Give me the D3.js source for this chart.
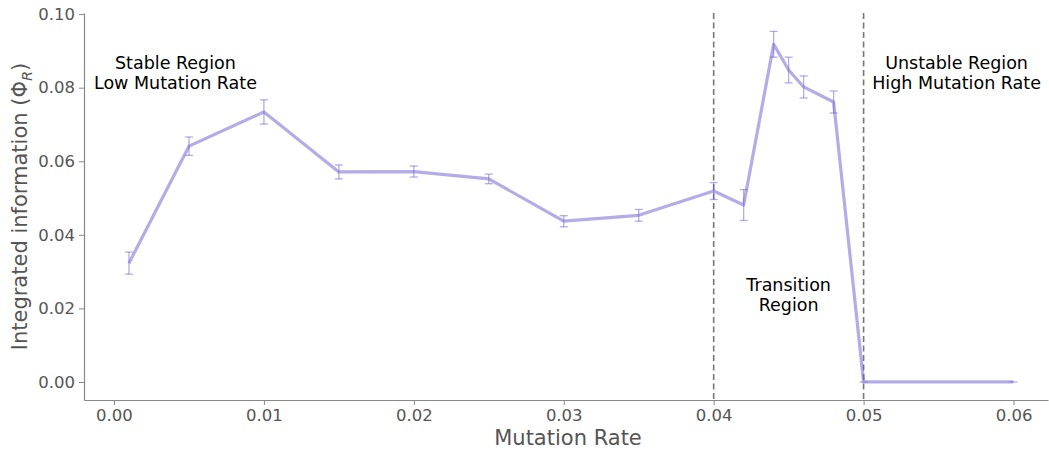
<!DOCTYPE html>
<html><head><meta charset="utf-8">
<script src="https://cdn.jsdelivr.net/npm/d3@7"></script>
<style>
body{margin:0;background:#fff;}
text{font-family:"DejaVu Sans",sans-serif;}
</style></head>
<body><svg id="c" width="1049" height="451"></svg>
<script>
const rates = [0.001,0.005,0.01,0.015,0.02,0.025,0.03,0.035,0.04,0.042,0.044,0.045,0.046,0.048,0.05,0.06];
const phi   = [0.0323,0.0641,0.0734,0.0571,0.0572,0.0552,0.0437,0.0453,0.0519,0.0481,0.0918,0.0848,0.0802,0.0761,0.0,0.0];
const errs  = [0.0030,0.0025,0.0033,0.0019,0.0015,0.0013,0.0015,0.0016,0.0023,0.0042,0.0035,0.0035,0.0030,0.0030,0.0,0.0];
const xTicks = [0,0.01,0.02,0.03,0.04,0.05,0.06];
const yTicks = [0,0.02,0.04,0.06,0.08,0.10];
const boundaries = [0.04,0.05];
const annotations = [
  {x:0.0041, y:0.0855, lines:["Stable Region","Low Mutation Rate"]},
  {x:0.045, y:0.0253, lines:["Transition","Region"]},
  {x:0.0562, y:0.0855, lines:["Unstable Region","High Mutation Rate"]}
];

const svg = d3.select("#c");
const L=84, R=1048, T=13, B=400;
const x = d3.scaleLinear().domain([-0.002,0.0623]).range([L,R]);
const y = d3.scaleLinear().domain([-0.0049,0.1003]).range([B,T]);
const grey="#555";

// axes
const xa = svg.append("g").attr("transform",`translate(0,${B})`)
  .call(d3.axisBottom(x).tickValues(xTicks).tickFormat(d3.format(".2f")).tickSize(5).tickPadding(4).tickSizeOuter(0));
const ya = svg.append("g").attr("transform",`translate(${L},0)`)
  .call(d3.axisLeft(y).tickValues(yTicks).tickFormat(d3.format(".2f")).tickSize(5).tickPadding(4).tickSizeOuter(0));
[xa,ya].forEach(a=>{
  a.select(".domain").attr("stroke","#888").attr("stroke-width",1.2);
  a.selectAll(".tick line").attr("stroke","#888").attr("stroke-width",1);
  a.selectAll(".tick text").attr("fill",grey).style("font-size","16.5px").style("font-family","DejaVu Sans");
});

svg.append("text").attr("x",(L+R)/2+2).attr("y",445).attr("text-anchor","middle")
  .attr("fill",grey).style("font-size","21px").text("Mutation Rate");
const yl = svg.append("text").attr("transform",`translate(27,${(T+B)/2}) rotate(-90)`).attr("text-anchor","middle")
  .attr("fill",grey).style("font-size","21px");
yl.append("tspan").text("Integrated information (Φ");
yl.append("tspan").attr("dy",5).style("font-size","14.5px").style("font-style","italic").text("R");
yl.append("tspan").attr("dy",-5).text(")");

// boundaries
svg.selectAll(".bd").data(boundaries).join("line")
  .attr("x1",d=>x(d)).attr("x2",d=>x(d)).attr("y1",T).attr("y2",B)
  .attr("stroke","#777").attr("stroke-width",1.6).attr("stroke-dasharray","6,3.5");

// line
const data = rates.map((r,i)=>({r,v:phi[i],e:errs[i]}));
const col = "rgba(106,90,205,0.5)";
svg.append("path").datum(data)
  .attr("d",d3.line().x(d=>x(d.r)).y(d=>y(d.v)))
  .attr("fill","none").attr("stroke",col).attr("stroke-width",3.2).attr("stroke-linejoin","round");

// error bars
const eb = svg.selectAll(".eb").data(data).join("g");
eb.filter(d=>d.e>0).append("line").attr("x1",d=>x(d.r)).attr("x2",d=>x(d.r))
  .attr("y1",d=>y(d.v-d.e)).attr("y2",d=>y(d.v+d.e)).attr("stroke",col).attr("stroke-width",1.3);
eb.append("line").attr("x1",d=>x(d.r)-4).attr("x2",d=>x(d.r)+4)
  .attr("y1",d=>y(d.v-d.e)).attr("y2",d=>y(d.v-d.e)).attr("stroke",col).attr("stroke-width",1.3);
eb.filter(d=>d.e>0).append("line").attr("x1",d=>x(d.r)-4).attr("x2",d=>x(d.r)+4)
  .attr("y1",d=>y(d.v+d.e)).attr("y2",d=>y(d.v+d.e)).attr("stroke",col).attr("stroke-width",1.3);

// annotations
annotations.forEach(a=>{
  const t = svg.append("text").attr("text-anchor","middle").attr("fill","#000").style("font-size","17.5px");
  a.lines.forEach((s,i)=>t.append("tspan").attr("x",x(a.x)).attr("y",y(a.y)+2+i*20).text(s));
});
</script></body></html>
